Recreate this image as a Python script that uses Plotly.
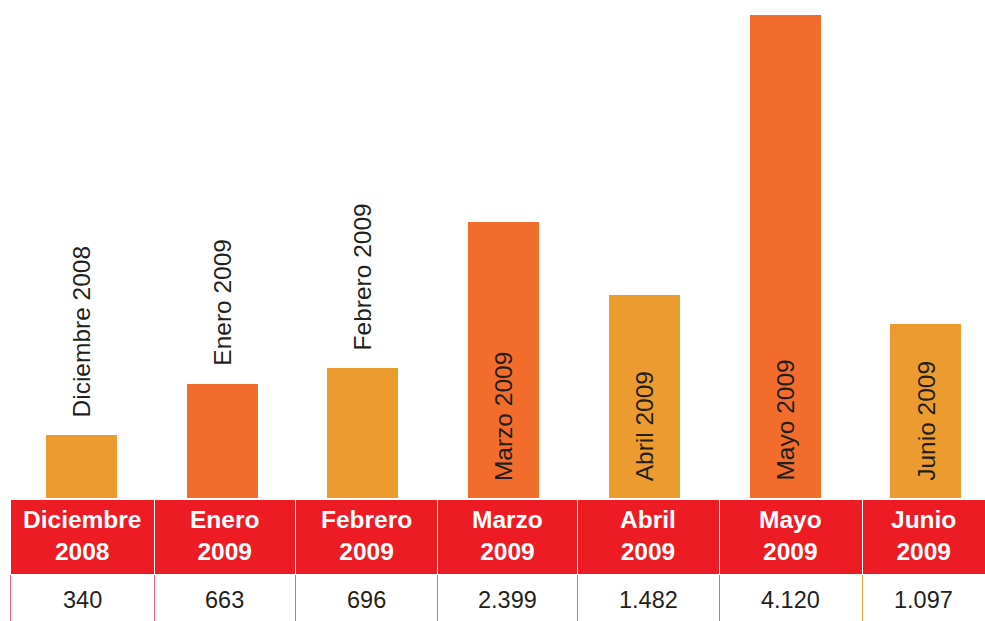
import plotly.graph_objects as go

# ---- data ----
months = ["Diciembre 2008", "Enero 2009", "Febrero 2009", "Marzo 2009",
          "Abril 2009", "Mayo 2009", "Junio 2009"]
header_line1 = ["Diciembre", "Enero", "Febrero", "Marzo", "Abril", "Mayo", "Junio"]
header_line2 = ["2008", "2009", "2009", "2009", "2009", "2009", "2009"]
table_values = ["340", "663", "696", "2.399", "1.482", "4.120", "1.097"]
# bar heights as drawn in the picture (visual units)
bar_heights = [63, 114, 130, 276, 203, 483, 174]
label_inside = [False, False, False, True, True, True, True]

# ---- styles ----
YELLOW = "#EC9C2E"
ORANGE = "#F26D2B"
RED = "#ED1C24"
DIV_RED = "#F2616C"
DIV_ORANGE = "#EFA045"
bar_colors = [YELLOW, ORANGE, YELLOW, ORANGE, YELLOW, ORANGE, YELLOW]
FONT = "Liberation Sans, Arial, sans-serif"
TEXT = "#231F20"

W, H = 985, 621
base_px = 498          # pixel row of the bars' baseline
table_top_px = 499
header_h, cell_h = 75, 47
col_widths = [144, 141, 142, 140, 142, 143, 123]
table_x0 = 10 / W

fig = go.Figure()
fig.add_trace(go.Bar(
    x=months, y=bar_heights,
    marker=dict(color=bar_colors, line=dict(width=0)),
    width=0.505, showlegend=False, hoverinfo="skip",
))

for m, h, inside in zip(months, bar_heights, label_inside):
    fig.add_annotation(
        x=m, y=0 if inside else h, xref="x", yref="y",
        text=m, textangle=-90, showarrow=False,
        xanchor="center", yanchor="bottom",
        yshift=15 if inside else 16,
        font=dict(family=FONT, size=24.5, color=TEXT),
    )

# table grid (fills and dividers)
fig.add_trace(go.Table(
    domain=dict(x=[table_x0, 1], y=[0, (H - table_top_px) / H]),
    columnwidth=col_widths,
    header=dict(
        values=["" for _ in header_line1],
        fill_color=RED,
        line=dict(color="white", width=1),
        height=header_h,
    ),
    cells=dict(
        values=[[""] for _ in table_values],
        fill_color="white",
        line=dict(color=[DIV_RED] * 6 + [DIV_ORANGE], width=1),
        height=cell_h,
    ),
))

# table texts, centred in each column
total_w = sum(col_widths)
span = 1 - table_x0
left = table_x0
header_y = (H - table_top_px - header_h / 2 + 1) / H
value_y = (H - 600) / H
for w, a, b, v in zip(col_widths, header_line1, header_line2, table_values):
    cx = left + span * (w / total_w) / 2
    left += span * w / total_w
    fig.add_annotation(
        x=cx, y=header_y, xref="paper", yref="paper",
        text=f"<b>{a}</b><br><b>{b}</b>", showarrow=False, align="center",
        xanchor="center", yanchor="middle",
        font=dict(family=FONT, size=24.5, color="white"),
    )
    fig.add_annotation(
        x=cx, y=value_y, xref="paper", yref="paper",
        text=v, showarrow=False, align="center",
        xanchor="center", yanchor="middle",
        font=dict(family=FONT, size=23.5, color=TEXT),
    )

fig.update_layout(
    width=W, height=H,
    margin=dict(l=0, r=0, t=0, b=0),
    paper_bgcolor="white", plot_bgcolor="white",
    xaxis=dict(visible=False, type="category", range=[-0.579, 6.421], domain=[0, 1]),
    yaxis=dict(visible=False, range=[0, base_px], domain=[(H - base_px) / H, 1]),
    bargap=0,
)

fig.write_html("out.html", config={"displayModeBar": False},
               post_script="document.body.style.margin='0';")
